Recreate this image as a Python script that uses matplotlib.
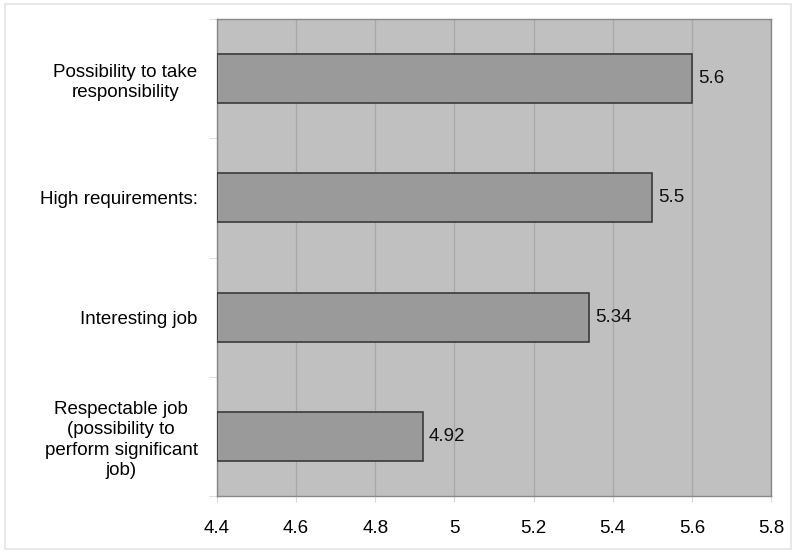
import matplotlib
matplotlib.use("Agg")
import matplotlib.pyplot as plt
from matplotlib.patches import Rectangle

categories = ["Respectable job\n(possibility to\nperform significant\njob)",
              "Interesting job",
              "High requirements:",
              "Possibility to take\nresponsibility"]
values = [4.92, 5.34, 5.5, 5.6]
value_labels = ["4.92", "5.34", "5.5", "5.6"]
xticks = [4.4, 4.6, 4.8, 5.0, 5.2, 5.4, 5.6, 5.8]
xtick_labels = ["4.4", "4.6", "4.8", "5", "5.2", "5.4", "5.6", "5.8"]

plt.rcParams['font.family'] = ['Liberation Sans', 'DejaVu Sans']
FS = 13.5

fig = plt.figure(figsize=(7.96, 5.53), dpi=100)
fig.patches.append(Rectangle((0.006, 0.008), 0.988, 0.984, transform=fig.transFigure,
                             fill=False, edgecolor='#e4e4e4', linewidth=1.2))
ax = fig.add_axes([0.2726, 0.1031, 0.6960, 0.8625])
ax.set_facecolor('#c0c0c0')

ypos = list(range(len(categories)))
ax.barh(ypos, [v - 4.4 for v in values], left=4.4, height=0.41,
        color='#9a9a9a', edgecolor='#3a3a3a', linewidth=1.2, zorder=3)
for y, v, lab in zip(ypos, values, value_labels):
    ax.text(v + 0.015, y, lab, va='center', ha='left', fontsize=FS, color='#111111')

ax.set_xlim(4.4, 5.8)
ax.set_ylim(-0.5, 3.5)
ax.set_xticks(xticks)
ax.set_xticklabels(xtick_labels, fontsize=FS)
ax.set_yticks(ypos)
ax.set_yticklabels(categories, fontsize=FS, multialignment='center', linespacing=1.25)
ax.set_yticks([-0.5, 0.5, 1.5, 2.5, 3.5], minor=True)
ax.tick_params(axis='y', which='major', length=0, pad=14)
ax.tick_params(axis='y', which='minor', length=6, color='#d8d8d8', direction='out')
ax.tick_params(axis='x', length=4, color='#d8d8d8', pad=13)
ax.xaxis.grid(True, color='#a8a8a8', linewidth=0.9, zorder=0)
ax.set_axisbelow(True)
for s in ax.spines.values():
    s.set_color('#888888')
    s.set_linewidth(1.0)

fig.savefig("out.png", dpi=100, facecolor='white')
